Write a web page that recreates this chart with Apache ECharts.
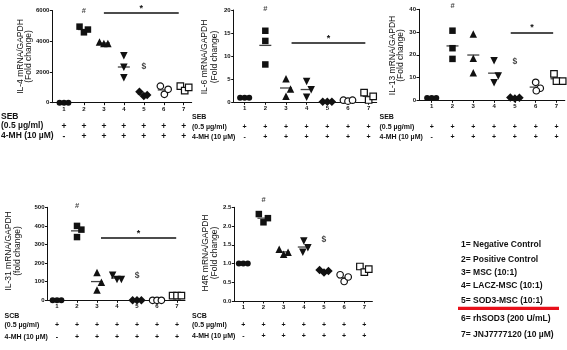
<!DOCTYPE html>
<html><head><meta charset="utf-8">
<script src="https://cdn.jsdelivr.net/npm/echarts@6/dist/echarts.min.js"></script>
<style>html,body{margin:0;padding:0;background:#fff}#c{width:567px;height:350px}</style>
</head><body><div id="c"></div>
<script>
// ---------- data ----------
const CATEGORIES = [1, 2, 3, 4, 5, 6, 7];
const SEB_SIGNS = ['+', '+', '+', '+', '+', '+', '+'];
const MH_SIGNS  = ['-', '+', '+', '+', '+', '+', '+'];
const LEGEND_LINES = ['1= Negative Control', '2= Positive Control', '3= MSC (10:1)',
  '4= LACZ-MSC (10:1)', '5= SOD3-MSC (10:1)', '6= rhSOD3 (200 U/mL)', '7= JNJ7777120 (10 \u00b5M)'];

// replicate values per group (left, centre, right order)
const IL4  = [[0,0,0],[4950,4580,4760],[3950,3850,3850],[3050,2300,1620],[710,440,500],[1080,545,870],[1080,780,1000]];
const IL6  = [[1,1,1],[15.5,13.3,8.2],[5.1,2.9,1.3],[4.5,2.7,1.1],[0.1,0.1,0.1],[0.45,0.25,0.45],[2.1,0.5,1.3]];
const IL13 = [[1,1,1],[30.6,22.9,18.2],[29.1,18.5,12.1],[17.4,10.7,7.7],[1.2,0.8,1.1],[7.9,5.3,4.2],[11.6,8.4,8.4]];
const IL31 = [[0,0,0],[400,380,340],[149,97,56],[135,112,112],[0,0,0],[0,0,0],[25,25,25]];
const H4R  = [[1,1,1],[2.32,2.10,2.21],[1.38,1.25,1.30],[1.60,1.42,1.30],[0.83,0.76,0.80],[0.70,0.52,0.64],[0.92,0.77,0.85]];

const IL4_TICKS  = [0, 2000, 4000, 6000];
const IL6_TICKS  = [0, 5, 10, 15, 20];
const IL13_TICKS = [0, 10, 20, 30, 40];
const IL31_TICKS = [0, 100, 200, 300, 400, 500];
const H4R_TICKS  = [0, 0.5, 1.0, 1.5, 2.0, 2.5];

// significance bars (from group, to group, value level)
const IL4_SIG  = [3.0, 6.75, 5865];
const IL6_SIG  = [3.27, 6.84, 12.8];
const IL13_SIG = [4.8, 6.84, 29.9];
const IL31_SIG = [3.2, 6.96, 335];
const H4R_SIG  = [3.13, 6.87, 2.56];
// '#' level above group 2, '$' level above group 5
const IL4_MARKS  = [5987, 2343];
const IL6_MARKS  = [20.2, null];
const IL13_MARKS = [41.6, 17.0];
const IL31_MARKS = [508, 131];
const H4R_MARKS  = [2.69, 1.63];

// ---------- layout (horizontal jitter of replicates, in group units) ----------
const IL4_JIT  = [[-0.22,0,0.22],[-0.22,0,0.2],[-0.22,0,0.2],[0,0,0],[-0.22,0,0.17],[-0.17,0.03,0.22],[-0.17,0.05,0.25]];
const IL6_JIT  = [[-0.22,0,0.22],[0,0,0],[0,0.22,0],[0,0.22,0],[-0.22,0,0.22],[-0.22,0,0.22],[-0.22,0,0.22]];
const IL13_JIT = [[-0.22,0,0.22],[0,0,0],[0,0,0],[0,0.2,0],[-0.22,0,0.22],[0,0.22,0.03],[-0.12,0.0,0.3]];
const IL31_JIT = [[-0.22,0,0.22],[0,0.22,0],[0,0.22,0],[-0.22,0,0.22],[-0.22,0,0.22],[-0.22,0,0.22],[-0.22,0,0.22]];
const H4R_JIT  = [[-0.22,0,0.22],[-0.23,0,0.22],[-0.22,0,0.22],[0,0.2,-0.05],[-0.22,0,0.22],[-0.2,0,0.2],[-0.22,0,0.22]];

const FONT = 'Liberation Sans, Arial, sans-serif';
const INK = '#111';

const GROUP_STYLES = [
  {symbol: 'circle', size: 6, fill: INK},
  {symbol: 'rect', size: 6.5, fill: INK},
  {symbol: 'triangle', size: 7.5, fill: INK},
  {symbol: 'triangle', size: 7.5, fill: INK, rotate: 180},
  {symbol: 'diamond', size: 8.5, fill: INK},
  {symbol: 'circle', size: 6.5, fill: '#fff', border: 1.2},
  {symbol: 'rect', size: 6.5, fill: '#fff', border: 1.2}
];

const panels = [
  {vals: IL4, jit: IL4_JIT, ticks: IL4_TICKS, sig: IL4_SIG, marks: IL4_MARKS, dec: 0, rowFont: 8.5,
   grid: {left: 52.3, top: 10.5, width: 139.4, height: 92.2}, x: [0.415, 7.4], rowOff: [19.3, 29.3],
   title: ['IL-4 mRNA/GAPDH', '(Fold change)'], titleX: [20.7, 28.9], titleY: 56.5,
   rows: ['SEB', '(0.5 \u00b5g/ml)', '4-MH (10 \u00b5M)'], rowX: 1, rowY: [116.5, 126, 136]},
  {vals: IL6, jit: IL6_JIT, ticks: IL6_TICKS, sig: IL6_SIG, marks: IL6_MARKS, dec: 0, rowFont: 7,
   grid: {left: 233.7, top: 10, width: 143, height: 92.3}, x: [0.47, 7.39], rowOff: [21.2, 31.2],
   title: ['IL-6 mRNA/GAPDH', '(Fold change)'], titleX: [205, 214.3], titleY: 57,
   rows: ['SEB', '(0.5 \u00b5g/ml)', '4-MH (10 \u00b5M)'], rowX: 192, rowY: [116.8, 126.7, 136.7]},
  {vals: IL13, jit: IL13_JIT, ticks: IL13_TICKS, sig: IL13_SIG, marks: IL13_MARKS, dec: 0, rowFont: 7,
   grid: {left: 419, top: 9.3, width: 145.8, height: 91}, x: [0.39, 7.4], rowOff: [23.2, 33.2],
   title: ['IL-13 mRNA/GAPDH', '(Fold change)'], titleX: [392.3, 401], titleY: 55.5,
   rows: ['SEB', '(0.5 \u00b5g/ml)', '4-MH (10 \u00b5M)'], rowX: 379.5, rowY: [117, 126.7, 136.7]},
  {vals: IL31, jit: IL31_JIT, ticks: IL31_TICKS, sig: IL31_SIG, marks: IL31_MARKS, dec: 0, rowFont: 7,
   grid: {left: 47.5, top: 207.3, width: 137.5, height: 93}, x: [0.525, 7.4], rowOff: [21.5, 33.5],
   title: ['IL-31 mRNA/GAPDH', '(fold change)'], titleX: [8.7, 17.5], titleY: 251,
   rows: ['SCB', '(0.5 \u00b5g/ml)', '4-MH (10 \u00b5M)'], rowX: 4.5, rowY: [316, 325.5, 336.7]},
  {vals: H4R, jit: H4R_JIT, ticks: H4R_TICKS, sig: H4R_SIG, marks: H4R_MARKS, dec: 1, rowFont: 7,
   grid: {left: 234.3, top: 207.3, width: 138.1, height: 93.7}, x: [0.554, 7.4], rowOff: [20.8, 31.8],
   title: ['H4R mRNA/GAPDH', '(Fold change)'], titleX: [205.7, 215], titleY: 253,
   rows: ['SCB', '(0.5 \u00b5g/ml)', '4-MH (10 \u00b5M)'], rowX: 192, rowY: [316.5, 325, 336]}
];

const mean = a => a.reduce((s, v) => s + v, 0) / a.length;

const grids = [], xAxes = [], yAxes = [], series = [], graphics = [];

panels.forEach((p, pi) => {
  grids.push(Object.assign({containLabel: false}, p.grid));
  const base = {gridIndex: pi, type: 'value', min: p.x[0], max: p.x[1], position: 'bottom', splitLine: {show: false}};
  xAxes.push(Object.assign({}, base, {
    axisLine: {show: true, lineStyle: {color: INK, width: 1}},
    axisTick: {show: true, length: 2.5, customValues: CATEGORIES, lineStyle: {color: INK}},
    axisLabel: {show: true, customValues: CATEGORIES, fontSize: 6, fontWeight: 'bold', color: INK, margin: 3.5, fontFamily: FONT}
  }));
  [SEB_SIGNS, MH_SIGNS].forEach((signs, ri) => {
    xAxes.push(Object.assign({}, base, {
      offset: p.rowOff[ri],
      axisLine: {show: false}, axisTick: {show: false},
      axisLabel: {show: true, customValues: CATEGORIES, margin: 0, fontSize: p.rowFont, fontWeight: 'bold', color: INK, fontFamily: FONT,
        formatter: v => signs[Math.round(v) - 1]}
    }));
  });
  const t = p.ticks;
  yAxes.push({gridIndex: pi, type: 'value', min: t[0], max: t[t.length - 1], interval: t[1] - t[0],
    splitLine: {show: false},
    axisLine: {show: true, lineStyle: {color: INK, width: 1}},
    axisTick: {show: true, length: 2.5, lineStyle: {color: INK}},
    axisLabel: {fontSize: 6, fontWeight: 'bold', color: INK, margin: 3, fontFamily: FONT,
      formatter: v => v.toFixed(p.dec)}
  });
  const xi = pi * 3;
  // mean lines + significance bar
  series.push({
    type: 'scatter', xAxisIndex: xi, yAxisIndex: pi, silent: true, animation: false, z: 2,
    symbol: 'rect', symbolSize: [12, 1.3], itemStyle: {color: INK},
    data: p.vals.map((arr, g) => [CATEGORIES[g], mean(arr)]),
    markLine: {symbol: 'none', silent: true, animation: false,
      lineStyle: {color: INK, width: 1.5, type: 'solid'},
      label: {show: true, position: 'middle', formatter: '*', fontSize: 9, fontWeight: 'bold', color: INK, distance: 0, fontFamily: FONT},
      data: [[{coord: [p.sig[0], p.sig[2]]}, {coord: [p.sig[1], p.sig[2]]}]]}
  });
  // replicates
  p.vals.forEach((arr, g) => {
    const st = GROUP_STYLES[g];
    series.push({
      type: 'scatter', xAxisIndex: xi, yAxisIndex: pi, silent: true, animation: false, z: 3,
      symbol: st.symbol, symbolSize: st.size, symbolRotate: st.rotate || 0,
      itemStyle: {color: st.fill, borderColor: INK, borderWidth: st.border || 0, opacity: 1},
      data: arr.map((v, k) => [CATEGORIES[g] + p.jit[g][k], v])
    });
  });
  // '#' and '$' marks
  const markData = [];
  if (p.marks[0] != null) markData.push({value: [2, p.marks[0]], label: {formatter: '#', fontSize: 7.5}});
  if (p.marks[1] != null) markData.push({value: [5, p.marks[1]], label: {formatter: '$', fontSize: 8.5}});
  series.push({
    type: 'scatter', xAxisIndex: xi, yAxisIndex: pi, silent: true, animation: false, clip: false, z: 4,
    symbolSize: 1, itemStyle: {color: 'rgba(0,0,0,0)'},
    label: {show: true, position: 'inside', color: INK, fontWeight: 'bold', fontFamily: FONT},
    data: markData
  });
  // y titles
  p.title.forEach((txt, li) => {
    graphics.push({type: 'text', x: p.titleX[li], y: p.titleY, rotation: Math.PI / 2, silent: true,
      style: {text: txt, x: 0, y: 0, align: 'center', verticalAlign: 'middle', fontSize: 8.5, fontFamily: FONT, fill: INK}});
  });
  // row captions
  p.rows.forEach((txt, li) => {
    graphics.push({type: 'text', x: p.rowX, y: p.rowY[li], silent: true,
      style: {text: txt, x: 0, y: 0, align: 'left', verticalAlign: 'middle', fontSize: p.rowFont, fontWeight: 'bold', fontFamily: FONT, fill: INK}});
  });
});

// legend block
const LEG_Y = [245, 259.3, 272.5, 286, 301, 318.3, 335];
LEGEND_LINES.forEach((txt, i) => {
  graphics.push({type: 'text', x: 461, y: LEG_Y[i], silent: true,
    style: {text: txt, x: 0, y: 0, align: 'left', verticalAlign: 'middle', fontSize: 8.5, fontWeight: 'bold', fontFamily: FONT, fill: INK}});
});
graphics.push({type: 'rect', silent: true, shape: {x: 458, y: 306.8, width: 101, height: 3.3}, style: {fill: '#e8101a'}});

const chart = echarts.init(document.getElementById('c'), null, {renderer: 'canvas'});
chart.setOption({
  animation: false,
  backgroundColor: '#fff',
  grid: grids, xAxis: xAxes, yAxis: yAxes, series: series, graphic: graphics
});
</script>
</body></html>
